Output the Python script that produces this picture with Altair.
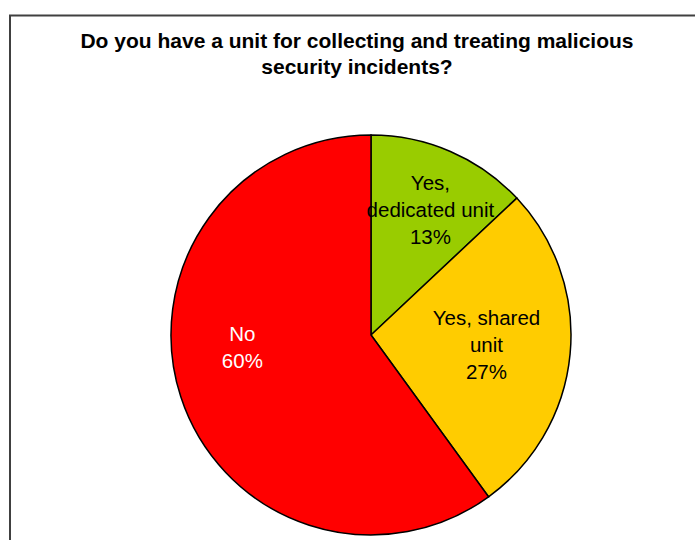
import altair as alt
import pandas as pd

# ---- data ----
categories = ["Yes, dedicated unit", "Yes, shared unit", "No"]
label_texts = ["Yes,\ndedicated unit\n13%", "Yes, shared\nunit\n27%", "No\n60%"]
values = [13, 27, 60]
slice_order = [0, 1, 2]
colors = ["#99CC00", "#FFCC00", "#FF0000"]
title_text = "Do you have a unit for collecting and treating malicious\nsecurity incidents?"

df = pd.DataFrame({
    "category": categories,
    "label": label_texts,
    "value": values,
    "order": slice_order,
})

FONT = "Liberation Sans"
CX, CY, R = 371, 335, 200

base = alt.Chart(df).encode(
    theta=alt.Theta("value:Q", stack=True),
    order=alt.Order("order:Q", sort="ascending"),
)

pie = base.mark_arc(x=CX, y=CY, radius=R, stroke="black", strokeWidth=1.5).encode(
    color=alt.Color("category:N", scale=alt.Scale(domain=categories, range=colors), legend=None)
)

# label placement per slice (radius, dx, dy, colour)
placements = [
    (137, 5, -25, "black"),
    (116, 0, -27, "black"),
    (130, -5, -40, "white"),
]

label_layers = []
for cat, (rad, dx, dy, col) in zip(categories, placements):
    label_layers.append(
        base.mark_text(
            x=CX, y=CY, radius=rad, dx=dx, dy=dy,
            font=FONT, fontSize=20.5, lineBreak="\n", lineHeight=27,
            align="center", baseline="middle", color=col,
        ).encode(
            text=alt.condition(alt.datum.category == cat, "label:N", alt.value(""))
        )
    )

title_df = pd.DataFrame({"t": [title_text]})
title = alt.Chart(title_df).mark_text(
    x=357, y=48, font=FONT, fontSize=21, fontWeight="bold",
    lineBreak="\n", lineHeight=26, align="center", baseline="alphabetic", color="black",
).encode(text="t:N")

frame = alt.Chart(title_df).mark_rect(
    fill="transparent", stroke="#404040", strokeWidth=2
).encode(x=alt.value(10), x2=alt.value(704), y=alt.value(15.5), y2=alt.value(600))

chart = alt.layer(frame, pie, *label_layers, title).properties(
    width=695, height=540,
    autosize=alt.AutoSizeParams(type="none"),
    padding=0,
).configure_view(stroke=None)

chart.save("out.html", embed_options={"renderer": "svg", "actions": False})
